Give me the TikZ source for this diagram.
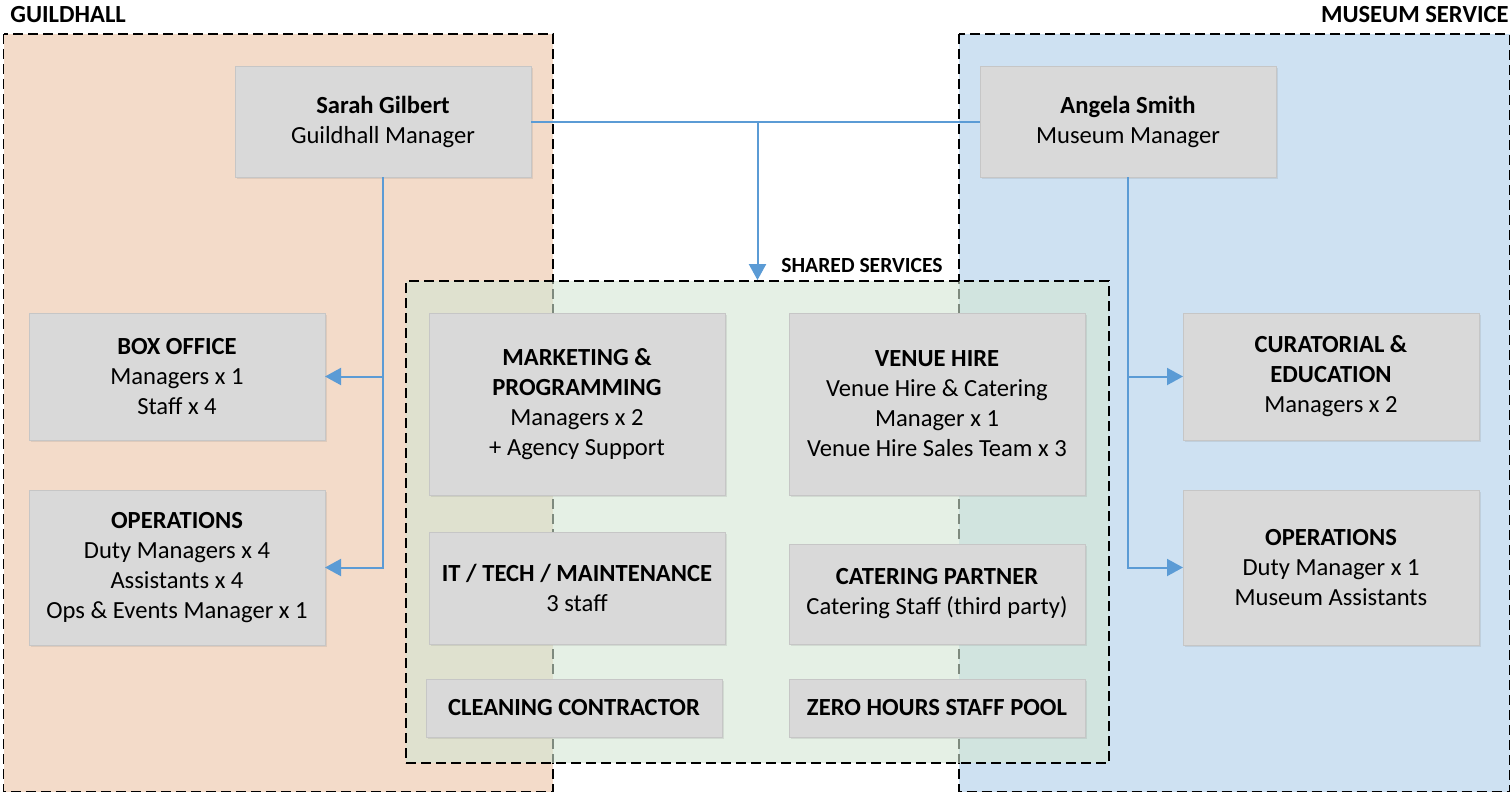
\documentclass[tikz,border=0pt]{standalone}
\usepackage{fontspec}
\setmainfont{Carlito}
\usetikzlibrary{arrows.meta, positioning, shadows}
\definecolor{ghSalmon}{HTML}{F3DBC9}
\definecolor{msBlue}{HTML}{CEE1F2}
\definecolor{ssGreen}{HTML}{D3E6D3}
\definecolor{boxGrey}{HTML}{D9D9D9}
\definecolor{boxEdge}{HTML}{C6C6C6}
\definecolor{linkBlue}{HTML}{5B9BD5}
\tikzset{
  % region outlines and the grey team boxes
  region/.style   = {draw=black, line width=0.9pt, dash pattern=on 5pt off 2.5pt},
  team/.style     = {draw=boxEdge, fill=boxGrey, line width=0.5pt, align=center,
                     minimum width=148pt, inner sep=0pt, outer sep=0pt,
                     font=\fontsize{12.3}{15}\selectfont,
                     drop shadow={shadow xshift=0.8pt, shadow yshift=-0.8pt, opacity=0.18}},
  title/.style    = {font=\fontsize{12.3}{15}\selectfont\bfseries, inner sep=0pt},
  link/.style     = {draw=linkBlue, line width=1pt},
  linkarrow/.style= {link, -{Triangle[length=8pt, width=8.5pt]}},
}
\begin{document}
\begin{tikzpicture}[x=0.5pt, y=-0.5pt]
  \useasboundingbox (0,0) rectangle (1511,794);
  % --- regions --------------------------------------------------------------
  \draw[region, fill=ghSalmon] (3.5,34) rectangle (553,791.5);
  \draw[region, fill=msBlue] (959,34) rectangle (1509.5,791.5);
  \node[region, fill=ssGreen, fill opacity=0.6, draw opacity=1, inner sep=0pt,
        minimum width=351.5pt, minimum height=241pt] (shared) at (757.5,522) {};
  \node[title, anchor=west] (ghlbl) at (10,15) {GUILDHALL};
  \node[title, anchor=east] (mslbl) at (1509,15) {MUSEUM SERVICE};
  \node[title, font=\fontsize{10.8}{13}\selectfont\bfseries] (sslbl) at (862,265) {SHARED SERVICES};
  % --- managers -------------------------------------------------------------
  \node[team, minimum height=55.5pt] (sarah) at (383,121.5)
    {\textbf{Sarah Gilbert}\\Guildhall Manager};
  \node[team, minimum height=55.5pt] (angela) at (1128,121.5)
    {\textbf{Angela Smith}\\Museum Manager};
  % --- guildhall teams ------------------------------------------------------
  \node[team, minimum height=63.5pt] (boxoff) at (177,376.5)
    {\textbf{BOX OFFICE}\\Managers x 1\\Staff x 4};
  \node[team, minimum height=77.5pt] (opsgh) at (177,567.5)
    {\textbf{OPERATIONS}\\Duty Managers x 4\\Assistants x 4\\Ops \& Events Manager x 1};
  % --- shared teams ---------------------------------------------------------
  \node[team, minimum height=91pt] (mkt) at (577,404)
    {\textbf{MARKETING \&}\\\textbf{PROGRAMMING}\\Managers x 2\\+ Agency Support};
  \node[team, minimum height=91pt] (venue) at (937,404)
    {\textbf{VENUE HIRE}\\Venue Hire \& Catering\\Manager x 1\\Venue Hire Sales Team x 3};
  \node[team, minimum height=56pt] (ittech) at (577,588)
    {\textbf{IT / TECH / MAINTENANCE}\\3 staff};
  \node[team, minimum height=50pt] (cater) at (937,594)
    {\textbf{CATERING PARTNER}\\Catering Staff (third party)};
  \node[team, minimum height=29pt] (clean) at (574,708)
    {\textbf{CLEANING CONTRACTOR}};
  \node[team, minimum height=29pt] (zero) at (937,708)
    {\textbf{ZERO HOURS STAFF POOL}};
  % --- museum teams ---------------------------------------------------------
  \node[team, minimum height=63.5pt] (curat) at (1331,376.5)
    {\textbf{CURATORIAL \&}\\\textbf{EDUCATION}\\Managers x 2};
  \node[team, minimum height=77.5pt] (opsms) at (1331,567.5)
    {\textbf{OPERATIONS}\\Duty Manager x 1\\Museum Assistants};
  % --- reporting lines ------------------------------------------------------
  \draw[link] (sarah.east) -- (angela.west);
  \draw[linkarrow] (sarah.east -| shared.north) -- (shared.north);
  \draw[linkarrow] (sarah.south) |- (boxoff.east);
  \draw[linkarrow] (sarah.south) |- (opsgh.east);
  \draw[linkarrow] (angela.south) |- (curat.west);
  \draw[linkarrow] (angela.south) |- (opsms.west);
\end{tikzpicture}
\end{document}
